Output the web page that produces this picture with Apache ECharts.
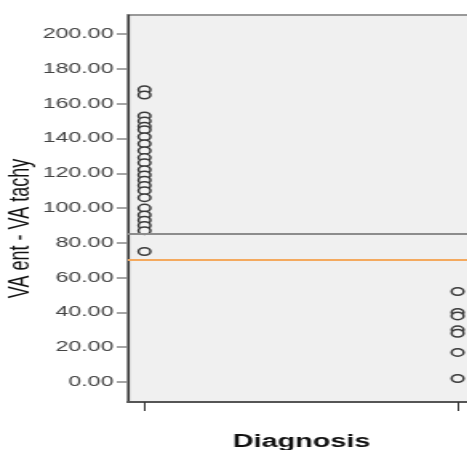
<!DOCTYPE html>
<html>
<head>
<meta charset="utf-8">
<script src="https://cdn.jsdelivr.net/npm/echarts@6/dist/echarts.min.js"></script>
<style>
  html, body { margin: 0; padding: 0; background: #fff; overflow: hidden; width: 467px; height: 450px; }
  #chart { width: 300px; height: 450px; transform: scaleX(1.6); transform-origin: 0 0; }
</style>
</head>
<body>
<div id="chart"></div>
<script>
// Data
const diagnosisPositions = [1, 2];
const groupA = [168, 165, 153, 150, 147, 145, 141, 137, 133, 129, 126, 122, 119, 116, 113, 110, 106, 100, 96, 93, 90, 87, 75];
const groupB = [52, 40, 38, 30, 28, 17, 2];
const referenceLines = [85, 70];
const yTicks = [0, 20, 40, 60, 80, 100, 120, 140, 160, 180, 200];
const yTitle = 'VA ent - VA tachy';
const xTitle = 'Diagnosis';

const chart = echarts.init(document.getElementById('chart'), null, { renderer: 'canvas' });

const markerStyle = { color: '#f4f4f4', borderColor: '#3a3a3a', borderWidth: 1.5, opacity: 1 };

chart.setOption({
  animation: false,
  grid: {
    left: 80, right: 3, top: 15, bottom: 48,
    containLabel: false, outerBoundsMode: 'none',
    show: true, backgroundColor: '#f0f0f0', borderColor: '#999', borderWidth: 2
  },
  xAxis: {
    type: 'value',
    min: 0.9473, max: 2.056,
    name: xTitle,
    nameLocation: 'middle',
    nameGap: 31.5,
    nameTextStyle: { fontFamily: 'Liberation Sans', fontSize: 18, fontWeight: 'bold', color: '#111' },
    axisLine: { show: true, onZero: false, lineStyle: { color: '#555', width: 2 } },
    axisTick: { show: true, customValues: diagnosisPositions, length: 9, lineStyle: { color: '#333', width: 1 } },
    axisLabel: { show: false },
    splitLine: { show: false }
  },
  yAxis: {
    type: 'value',
    min: -11.5, max: 211,
    name: yTitle,
    nameLocation: 'middle',
    nameGap: 58,
    nameMoveOverlap: false,
    nameRotate: 90,
    nameTextStyle: { fontFamily: 'Liberation Sans', fontSize: 18, color: '#111', padding: [0, 40, 0, 0] },
    axisLine: { show: true, onZero: false, lineStyle: { color: '#333', width: 1.2 } },
    axisTick: { show: true, customValues: yTicks, length: 7, lineStyle: { color: '#888', width: 1.5 } },
    axisLabel: {
      customValues: yTicks, margin: 9,
      fontFamily: 'Liberation Sans', fontSize: 14.5, color: '#444',
      formatter: v => v.toFixed(2)
    },
    splitLine: { show: false }
  },
  series: [
    {
      type: 'scatter',
      symbol: 'circle',
      symbolSize: 7.5,
      itemStyle: markerStyle,
      data: groupA.map(v => [diagnosisPositions[0], v]),
      markLine: {
        silent: true,
        symbol: 'none',
        label: { show: false },
        data: [
          { yAxis: referenceLines[0], lineStyle: { color: '#8c8c8c', width: 2, type: 'solid' } },
          { yAxis: referenceLines[1], lineStyle: { color: '#f4a95e', width: 2, type: 'solid' } }
        ]
      }
    },
    {
      type: 'scatter',
      symbol: 'circle',
      symbolSize: 7.5,
      itemStyle: markerStyle,
      data: groupB.map(v => [diagnosisPositions[1], v])
    }
  ]
});
</script>
</body>
</html>
